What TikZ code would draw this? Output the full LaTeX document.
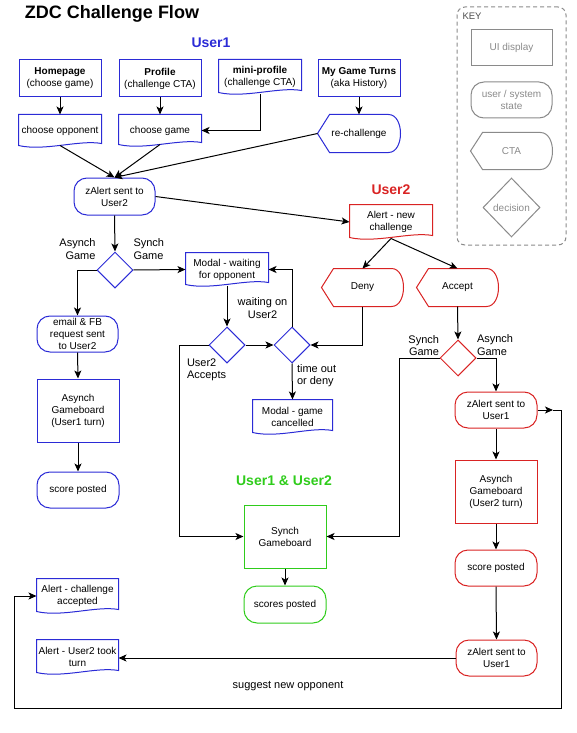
\documentclass[tikz,border=0pt]{standalone}
\usepackage{fontspec}
\setmainfont{Liberation Sans}
\usetikzlibrary{shapes.geometric,arrows.meta}
\definecolor{cblue}{HTML}{2B2BD6}
\definecolor{cred}{HTML}{D92323}
\definecolor{cgreen}{HTML}{2FCC1B}
\definecolor{cgray}{HTML}{8A8A8A}
\newcommand\fs{\fontsize{10}{12}\selectfont}
\newcommand\lfs{\fontsize{11}{12.3}\selectfont}
\newcommand\docout[2]{\draw[#2] (#1.north west) -- (#1.north east) -- ([yshift=4pt]#1.south east) .. controls ([xshift=-22pt,yshift=8pt]#1.south east) and ([xshift=26pt,yshift=-4pt]#1.south west) .. ([yshift=2pt]#1.south west) -- cycle;}
\newcommand\ctaout[2]{\draw[#2] (#1.west) -- ([xshift=12pt]#1.north west) -- ([xshift=-12pt]#1.north east) .. controls ([xshift=4pt]#1.north east) and ([xshift=4pt]#1.south east) .. ([xshift=-12pt]#1.south east) -- ([xshift=12pt]#1.south west) -- cycle;}
\begin{document}
\begin{tikzpicture}[x=1pt,y=-1pt, line width=1pt,
 every node/.style={font=\fs, align=center, inner sep=1pt},
 arr/.style={-{Stealth[length=8pt,width=7pt,inset=2pt]}, line width=1pt},
 uibox/.style={draw=#1, rectangle, minimum width=82pt, minimum height=37pt},
 statebox/.style={draw=#1, rectangle, rounded corners=13pt, minimum width=82pt, minimum height=36pt},
 docbox/.style={rectangle, minimum width=82pt, minimum height=34pt},
 ctabox/.style={rectangle, minimum width=82pt, minimum height=37pt},
 decbox/.style={draw=#1, diamond, minimum width=36pt, minimum height=36pt, inner sep=0pt},
 lbl/.style={inner sep=0pt, font=\lfs},
 head/.style={font=\fontsize{14}{16}\selectfont\bfseries, inner sep=0pt}]
\useasboundingbox (0,0) rectangle (576,733);

% titles
\node[font=\fontsize{18}{20}\selectfont\bfseries, inner sep=0pt] (title) at (112,14) {ZDC Challenge Flow};
\node[head, text=cblue] (u1) at (211,43) {User1};
\node[head, text=cred] (u2) at (391,190) {User2};
\node[head, text=cgreen] (u12) at (284,481) {User1 \& User2};

% key
\node[draw=cgray, dash pattern=on 4pt off 3pt, rounded corners=8pt, minimum width=109pt, minimum height=238pt, inner sep=0pt] (key) at (511.5,126) {};
\node[anchor=west, text=black!70, font=\fontsize{9.5}{10}\selectfont, inner sep=0pt] (keyt) at (462,16) {KEY};
\node[uibox=cgray, text=cgray, minimum width=81pt, minimum height=36pt] (kui) at (511.5,48) {UI display};
\node[statebox=cgray, text=cgray, minimum width=81pt] (kst) at (511.5,100) {user / system\\state};
\node[ctabox, text=cgray, minimum height=36pt, minimum width=81pt] (kcta) at (511.5,151) {CTA};
\node[decbox=cgray, text=cgray, minimum width=57pt, minimum height=59pt] (kdec) at (511.5,207.5) {decision};
\ctaout{kcta}{cgray}

% user1 top
\node[uibox=cblue] (home) at (60,78.5) {\textbf{Homepage}\\(choose game)};
\node[uibox=cblue] (prof) at (160,78.5) {\textbf{Profile}\\(challenge CTA)};
\node[docbox] (mini) at (260,77) {\textbf{mini-profile}\\(challenge CTA)};
\node[uibox=cblue] (turns) at (359,78.5) {\textbf{My Game Turns}\\(aka History)};
\node[docbox, minimum height=32pt] (opp) at (60,131) {choose opponent};
\node[docbox, minimum height=31pt] (cgame) at (160,130.5) {choose game};
\node[ctabox] (rech) at (359,133.5) {re-challenge};
\node[statebox=cblue, minimum width=81pt, minimum height=37pt] (zA2) at (114.5,196.5) {zAlert sent to\\User2};
\node[decbox=cblue] (d1) at (115,270) {};
\node[statebox=cblue, minimum width=81pt] (email) at (77.5,334) {email \& FB\\request sent\\to User2};
\node[uibox=cblue, minimum height=63pt] (agb1) at (78,410.5) {Asynch\\Gameboard\\(User1 turn)};
\node[statebox=cblue] (sp1) at (78,490) {score posted};
\node[docbox, minimum height=33pt] (modw) at (227,269.5) {Modal - waiting\\for opponent};
\node[decbox=cblue] (d2) at (227,345) {};
\node[decbox=cblue] (d3) at (292,345) {};
\node[docbox, minimum width=79pt, minimum height=34pt] (modc) at (292.5,417) {Modal - game\\cancelled};

% user2
\node[docbox] (alert) at (391,222) {Alert - new\\challenge};
\node[ctabox, minimum width=81pt] (deny) at (362.5,287.5) {Deny};
\node[ctabox, minimum width=81pt] (accept) at (457.5,287.5) {Accept};
\node[decbox=cred] (d4) at (458,358) {};
\node[statebox=cred] (zA1a) at (496,410) {zAlert sent to\\User1};
\node[uibox=cred, minimum height=63pt] (agb2) at (496,491.5) {Asynch\\Gameboard\\(User2 turn)};
\node[statebox=cred] (sp2) at (496,568) {score posted};
\node[statebox=cred, minimum width=81pt] (zA1b) at (496.5,658) {zAlert sent to\\User1};

% both
\node[uibox=cgreen, minimum height=63pt] (sgb) at (285,536.5) {Synch\\Gameboard};
\node[statebox=cgreen, minimum height=37pt] (sps) at (285,604.5) {scores posted};
\node[docbox, minimum width=81pt] (acc) at (77.5,596) {Alert - challenge\\accepted};
\node[docbox, minimum width=81pt] (took) at (77.5,657) {Alert - User2 took\\turn};

% outlines
\docout{mini}{cblue}
\docout{opp}{cblue}
\docout{cgame}{cblue}
\docout{modw}{cblue}
\docout{modc}{cblue}
\docout{alert}{cred}
\docout{acc}{cblue}
\docout{took}{cblue}
\ctaout{rech}{cblue}
\ctaout{deny}{cred}
\ctaout{accept}{cred}

% labels
\node[lbl, anchor=east, align=right] (la1) at (96,249) {Asynch\\Game};
\node[lbl, anchor=west, align=left] (ls1) at (133,249) {Synch\\Game};
\node[lbl] (lw) at (262.5,308) {waiting on\\User2};
\node[lbl, anchor=west, align=left] (lacc) at (186.5,370) {User2\\Accepts};
\node[lbl, anchor=west, align=left] (lto) at (296.5,376) {time out\\or deny};
\node[lbl, anchor=east, align=right] (ls2) at (439.5,345.5) {Synch\\Game};
\node[lbl, anchor=west, align=left] (la2) at (476.5,345) {Asynch\\Game};
\node[lbl] (lsug) at (288,686) {suggest new opponent};

% coordinates
\coordinate (cL) at (179,345);
\coordinate (cR) at (399,358);
\coordinate (loopA) at (553,410);
\coordinate (loopB) at (561,708);
\coordinate (loopC) at (14,708);

% connectors
\draw[arr] (home.south) -- (opp.north);
\draw[arr] (prof.south) -- (cgame.north);
\draw[arr] (mini.south) |- (cgame.east);
\draw[arr] (turns.south) -- (rech.north);
\draw[arr] ([yshift=2pt]opp.south) -- (zA2.north);
\draw[arr] ([yshift=2pt]cgame.south) -- (zA2.north);
\draw[arr] (rech.west) -- (zA2.north);
\draw[arr] (zA2.east) -- (alert.west);
\draw[arr] (zA2.south) -- (d1.north);
\draw[arr] (d1.west) -| (email.north);
\draw[arr] (d1.east) -- (modw.west);
\draw[arr] (email.south) -- (agb1.north);
\draw[arr] (agb1.south) -- (sp1.north);
\draw[arr] ([yshift=1pt]modw.south) -- (d2.north);
\draw[arr] (d2.east) -- (d3.west);
\draw[arr] (d3.north) |- (modw.east);
\draw[arr] (d3.south) -- (modc.north);
\draw[arr] (d2.west) -- (cL) |- (sgb.west);
\draw[arr] ([yshift=1pt]alert.south) -- (deny.north);
\draw[arr] ([yshift=1pt]alert.south) -- (accept.north);
\draw[arr] (deny.south) |- (d3.east);
\draw[arr] (accept.south) -- (d4.north);
\draw[arr] (d4.west) -- (cR) |- (sgb.east);
\draw[arr] (d4.east) -| (zA1a.north);
\draw[arr] (zA1a.south) -- (agb2.north);
\draw[arr] (agb2.south) -- (sp2.north);
\draw[arr] (sp2.south) -- (zA1b.north);
\draw[arr] (zA1b.west) -- (zA1b.west -| took.east);
\draw[arr] (sgb.south) -- (sps.north);
\draw[arr] (zA1a.east) -- (loopA);
\draw[arr] (loopA) -| (loopB) -- (loopC) |- (acc.west);
\end{tikzpicture}
\end{document}
